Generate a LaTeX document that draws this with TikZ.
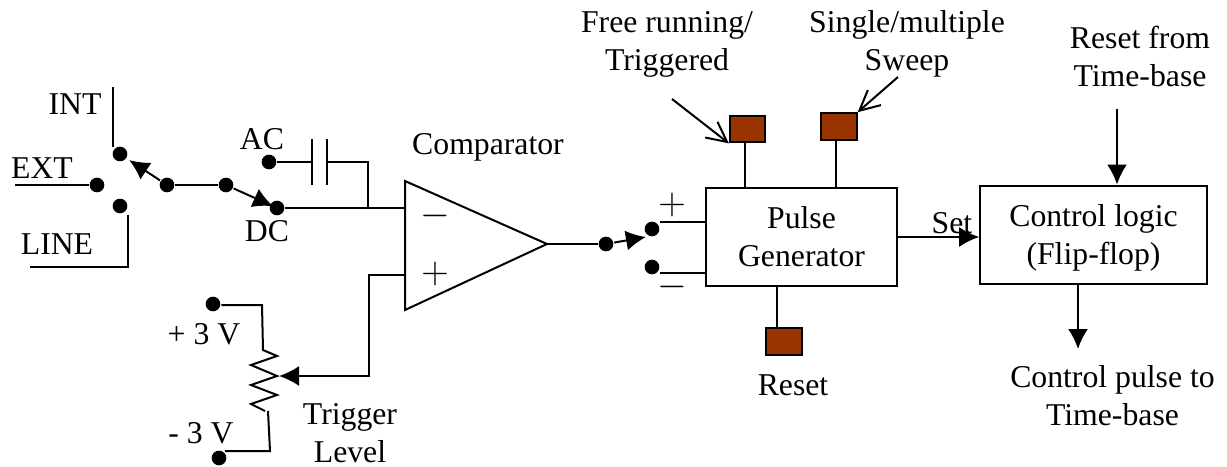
\documentclass[tikz,border=0pt]{standalone}
\usepackage{fontspec}
\setmainfont{Liberation Serif}
\usepackage{tikz}
\usetikzlibrary{arrows.meta,positioning}
\definecolor{PadBrown}{HTML}{993300}
\newcommand{\bigsign}[1]{\scalebox{1.15}{$#1$}}

\begin{document}
\begin{tikzpicture}[x=0.75pt,y=-0.75pt,line width=1.5pt,
every node/.style={font=\fontsize{23.8}{28.5}\selectfont,inner sep=0pt,align=center},
dot/.style={circle,fill=black,minimum size=11pt},
box/.style={draw,rectangle},
pad/.style={draw,fill=PadBrown,minimum width=26.5pt,minimum height=20pt},
arr/.style={-{Latex[length=15pt,width=15pt]}},
barb/.style={-{Straight Barb[length=15pt,width=15pt]}}]
\useasboundingbox (0,0) rectangle (1227,467);
% input selector
\node[dot] (int) at (120,154) {};
\node[dot] (ext) at (97,185) {};
\node[dot] (line) at (120,206) {};
\node[dot] (selA) at (167,185) {};
\node[dot] (selB) at (226,185) {};
\node[dot] (dc) at (277,208) {};
\node[dot] (ac) at (269,162) {};
\node (intlab) at (75,104) {INT};
\node (extlab) at (42,168) {EXT};
\node (linelab) at (57,244) {LINE};
\node (aclab) at (262,139) {AC};
\node (dclab) at (267,231) {DC};
\coordinate (inttop) at (113,87);
\coordinate (intend) at (113,147);
\coordinate (extend) at (15,185);
\coordinate (linetop) at (128,215);
\coordinate (linebend) at (128,267);
\coordinate (lineend) at (30,267);
\draw (inttop)--(intend);
\draw (extend)--(ext);
\draw (linetop)--(linebend)--(lineend);
\draw[arr,shorten >=2pt] (selA)--(int);
\draw (selA)--(selB);
\draw[arr,shorten >=-3pt] (selB)--(dc);
% capacitor
\coordinate (capL) at (312,162);
\coordinate (capR) at (327,162);
\coordinate (capbend) at (368,162);
\coordinate (capjoin) at (368,208);
\draw (ac)--(capL);
\draw (capL)+(0,-23)--+(0,23);
\draw (capR)+(0,-23)--+(0,23);
\draw (capR)--(capbend)--(capjoin);
% comparator
\coordinate (cmpA) at (405,181);
\coordinate (cmpB) at (405,310);
\coordinate (cmpC) at (547,244);
\coordinate (cmpminus) at (405,208);
\coordinate (cmpplus) at (405,275);
\draw (cmpA)--(cmpB)--(cmpC)--cycle;
\draw (dc)--(cmpminus);
\node (minus) at (435,216) {\bigsign{-}};
\node (plus) at (435,274) {\bigsign{+}};
\node (cmplab) at (488,147) {Comparator};
% trigger level
\node[dot] (pos) at (213,304) {};
\node[dot] (neg) at (219,458) {};
\node (poslab) at (204,334) {+ 3 V};
\node (neglab) at (201,433) {- 3 V};
\node (trig) at (350,433) {Trigger\\Level};
\coordinate (posbend) at (262,305);
\coordinate (rtop) at (263,350);
\coordinate (rbot) at (268,411);
\coordinate (negbend) at (270,451);
\coordinate (wiper) at (279,376);
\coordinate (wipbend) at (369,376);
\coordinate (wiptop) at (369,275);
\draw (pos.east|-posbend)--(posbend)--(rtop)--++(14,6)--++(-26,9)--++(26,11)--++(-26,9)--++(26,10)--++(-26,9)--++(14,7);
\draw (rbot)--(negbend)--(neg.north east|-negbend);
\draw[arr] (cmpplus)--(wiptop)--(wipbend)--(wiper);
% pulse generator
\node[box,minimum width=143pt,minimum height=73.5pt] (pulse) at (801.5,237) {Pulse\\Generator};
\node[dot] (swin) at (606,244) {};
\node[dot] (swpos) at (652,229) {};
\node[dot] (swneg) at (652,267) {};
\coordinate (swtip) at (646,237);
\coordinate (pgpos) at (706,222);
\coordinate (pgneg) at (706,273);
\coordinate (swposR) at (660,222);
\coordinate (swnegR) at (660,273);
\draw (cmpC)--(swin);
\draw[arr] (swin)--(swtip);
\draw (swposR)--(pgpos);
\draw (swnegR)--(pgneg);
\node (swplus) at (672,205) {\bigsign{+}};
\node (swminus) at (672,287) {\bigsign{-}};
% pads
\node[pad] (padA) at (747.5,129) {};
\node[pad] (padB) at (839,126.5) {};
\node[pad] (padC) at (784,341.5) {};
\draw (padA.south-|745,0)--(pulse.north-|745,0);
\draw (padB.south-|836,0)--(pulse.north-|836,0);
\draw (pulse.south-|777,0)--(padC.north-|777,0);
\coordinate (freeend) at (672,99);
\coordinate (singleend) at (898,77);
\draw[barb] (freeend)--(padA.south west);
\draw[barb] (singleend)--(padB.north east);
\node (free) at (667,44) {Free running/\\Triggered};
\node (single) at (907,44) {Single/multiple\\Sweep};
\node (padClab) at (793,385) {Reset};
% control logic
\node[box,text depth=0pt,minimum width=170pt,minimum height=73.5pt] (ctrl) at (1093.5,234.5) {Control logic\\(Flip-flop)};
\coordinate (pgout) at (897,237);
\coordinate (resetend) at (1117,109);
\coordinate (pulseend) at (1078,349);
\draw[arr] (pgout)--(ctrl.west|-pgout);
\node (setlab) at (952,223) {Set};
\draw[arr] (resetend)--(ctrl.north-|resetend);
\draw[arr] (ctrl.south-|pulseend)--(pulseend);
\node (reset) at (1140,56) {Reset from\\Time-base};
\node (ctrlout) at (1112.5,396) {Control pulse to\\Time-base};
\end{tikzpicture}
\end{document}
